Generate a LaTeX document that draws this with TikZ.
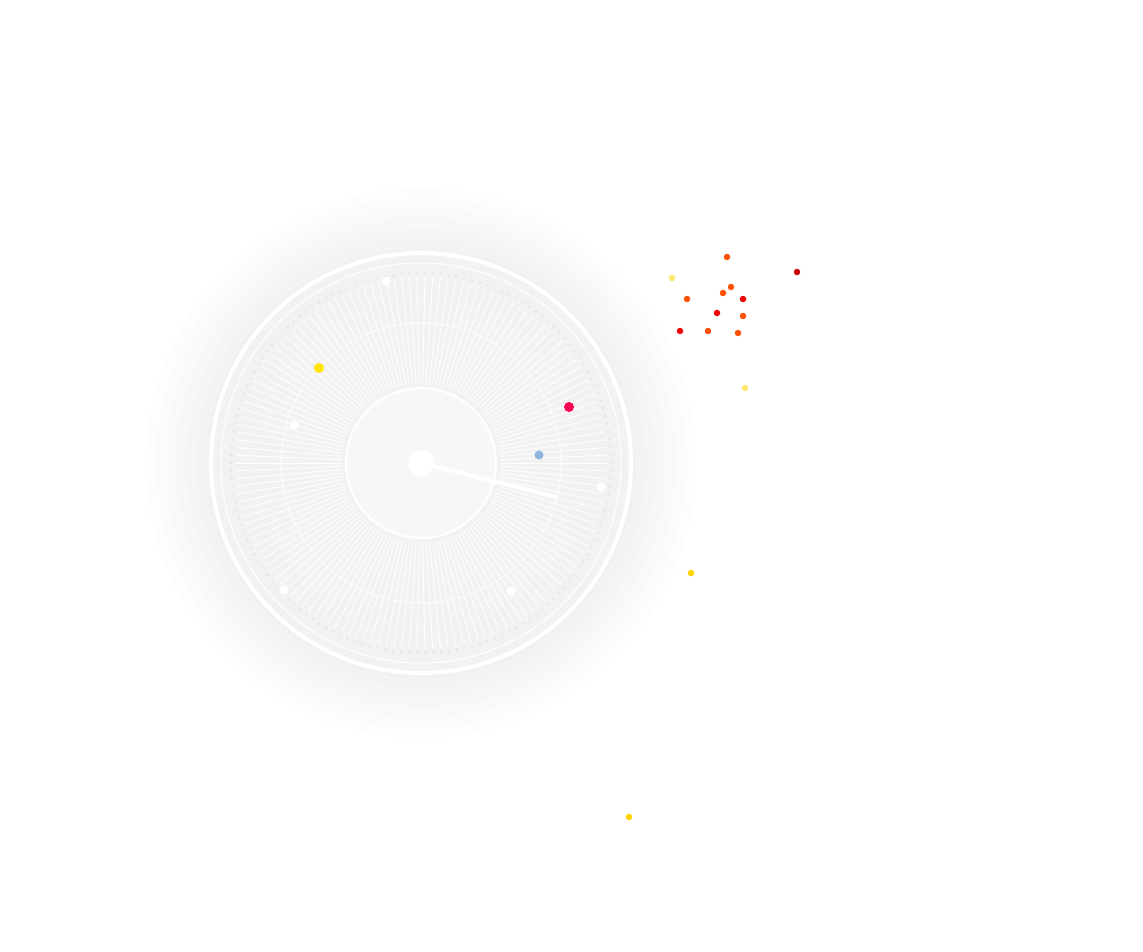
\documentclass[tikz,border=0pt]{standalone}
\usetikzlibrary{calc}
\begin{document}
\begin{tikzpicture}[x=1pt,y=-1pt,
  dot/.style={circle,inner sep=0pt,minimum size=#1}]
\useasboundingbox[fill=white] (0,0) rectangle (1143,952);
\coordinate (c) at (421,463);
\definecolor{pk}{RGB}{255,0,80}
\definecolor{bl}{RGB}{140,180,220}
% halo
\foreach \r in {275,265,...,215} \fill[black,opacity=0.009] (c) circle (\r);
\fill[black!5] (c) circle (210);
\draw[white,line width=4pt] (c) circle (210);
\draw[white,line width=1pt] (c) circle (200);
% radial lines
\foreach \a in {0,2.4,...,358} {
  \draw[white,line width=0.8pt] ($(c)+(\a:80)$) -- ($(c)+(\a:186)$);
  \fill[black!10] ($(c)+(\a:190)$) circle (1.3);
}
\draw[white,line width=1.5pt,opacity=0.6] (c) circle (140);
\node[dot=150pt,fill=black!3,draw=white,line width=2pt] (disc) at (c) {};
\draw[white,line width=4pt,line cap=round] (c) -- (556,497) coordinate (tip);
\node[dot=26pt,fill=white] (hub) at (c) {};
% dots on dial
\node[dot=10pt,fill=yellow!90!orange] (y1) at (319,368) {};
\node[dot=10pt,fill=pk] (p1) at (569,407) {};
\node[dot=9pt,fill=bl] (b1) at (539,455) {};
\foreach \p [count=\i] in {(386,281),(601,487),(284,590),(511,591),(294,425)}
  \node[dot=9pt,fill=white] (w\i) at \p {};
% cluster
\definecolor{or}{RGB}{255,80,0}
\definecolor{rd}{RGB}{240,0,0}
\definecolor{dr}{RGB}{200,0,0}
\definecolor{ly}{RGB}{255,230,110}
\definecolor{yl}{RGB}{255,210,0}
\foreach \p/\col [count=\i] in {(727,257)/or,(797,272)/dr,(672,278)/ly,(731,287)/or,(723,293)/or,(687,299)/or,(743,299)/rd,(717,313)/rd,(743,316)/or,(680,331)/rd,(708,331)/or,(738,333)/or,(745,388)/ly,(691,573)/yl,(629,817)/yl}
  \node[dot=6.5pt,fill=\col] (k\i) at \p {};
\end{tikzpicture}
\end{document}
